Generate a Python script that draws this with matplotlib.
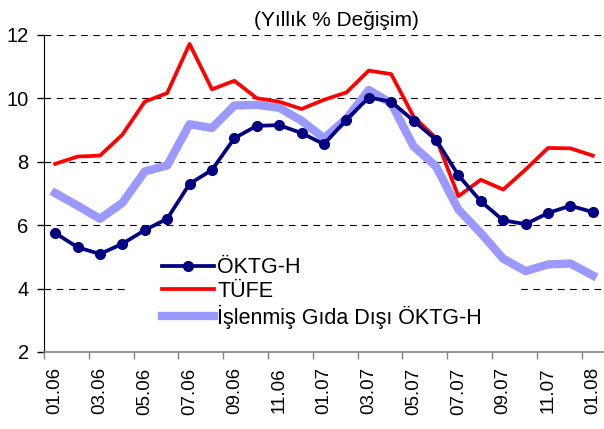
import matplotlib
matplotlib.use("Agg")
import matplotlib.pyplot as plt
from matplotlib.patches import Rectangle
import numpy as np

plt.rcParams['font.family'] = ['Liberation Sans', 'DejaVu Sans']

# monthly data, 01.06 .. 01.08
months = ['01.06', '02.06', '03.06', '04.06', '05.06', '06.06', '07.06', '08.06',
          '09.06', '10.06', '11.06', '12.06', '01.07', '02.07', '03.07', '04.07',
          '05.07', '06.07', '07.07', '08.07', '09.07', '10.07', '11.07', '12.07', '01.08']

oktg_h = [5.75, 5.30, 5.09, 5.41, 5.84, 6.20, 7.30, 7.74, 8.74, 9.13, 9.15, 8.90, 8.55,
          9.32, 10.02, 9.89, 9.29, 8.69, 7.57, 6.75, 6.15, 6.03, 6.38, 6.61, 6.41]
tufe = [7.93, 8.16, 8.19, 8.85, 9.89, 10.16, 11.71, 10.28, 10.55, 10.00, 9.89, 9.66, 9.95,
        10.18, 10.87, 10.76, 9.42, 8.74, 6.91, 7.43, 7.12, 7.75, 8.43, 8.42, 8.19]
islenmis = [7.01, 6.61, 6.20, 6.70, 7.69, 7.88, 9.18, 9.06, 9.77, 9.79, 9.70, 9.29, 8.74,
            9.35, 10.26, 9.84, 8.48, 7.85, 6.49, 5.75, 4.94, 4.55, 4.76, 4.79, 4.41]

y_ticks = [2, 4, 6, 8, 10, 12]

x = np.arange(len(months))

fig = plt.figure(figsize=(6.04, 4.29), dpi=100)
ax = fig.add_axes([0.0728, 0.1795, 0.9272, 0.7395])

for v in y_ticks[1:]:
    ax.axhline(v, color='black', linewidth=0.8, dashes=(6, 5), zorder=1)

# white legend box hiding the gridlines (as in the original)
ax.add_patch(Rectangle((127 / 604, 1 - 340 / 429), (520 - 127) / 604, (340 - 262) / 429,
                       transform=fig.transFigure, facecolor='white',
                       edgecolor='none', zorder=1.5))

l3, = ax.plot(x, islenmis, color='#9999FF', linewidth=6, zorder=3,
              label='İşlenmiş Gıda Dışı ÖKTG-H')
l2, = ax.plot(x, tufe, color='#FF0000', linewidth=2.7, zorder=4, label='TÜFE')
l1, = ax.plot(x, oktg_h, color='#000080', linewidth=2.7, marker='o', markersize=7, zorder=5,
              label='ÖKTG-H')

ax.set_xlim(-0.5, len(months) - 0.5)
ax.set_ylim(2, 12)
ax.set_yticks(y_ticks)
ax.set_yticklabels([str(v) for v in y_ticks], fontsize=14.5)

ax.set_xticks(x[::2])
ax.set_xticklabels(months[::2], rotation=90, fontsize=13.5)
ax.tick_params(axis='x', which='major', length=0, pad=11)
ax.set_xticks(np.arange(-0.5, len(months) - 1, 2), minor=True)
ax.tick_params(axis='x', which='minor', length=5, width=1, color='#808080', direction='out')
ax.tick_params(axis='y', length=5, width=1, direction='out', pad=6)

ax.spines['top'].set_visible(False)
ax.spines['right'].set_visible(False)
ax.spines['left'].set_color('black')
ax.spines['bottom'].set_color('#808080')
ax.spines['bottom'].set_linewidth(1.2)

leg = ax.legend(handles=[l1, l2, l3], loc='upper left',
                bbox_to_anchor=(160 / 604, 1 - 255 / 429), bbox_transform=fig.transFigure,
                fontsize=15.5, frameon=False, handlelength=2.4, handletextpad=0.15,
                labelspacing=0.13, borderpad=0.1, borderaxespad=0)
leg.set_zorder(6)

fig.text(336 / 604, 1 - 21 / 429, '(Yıllık % Değişim)', ha='center', va='center', fontsize=15)

fig.savefig('out.png', dpi=100)
